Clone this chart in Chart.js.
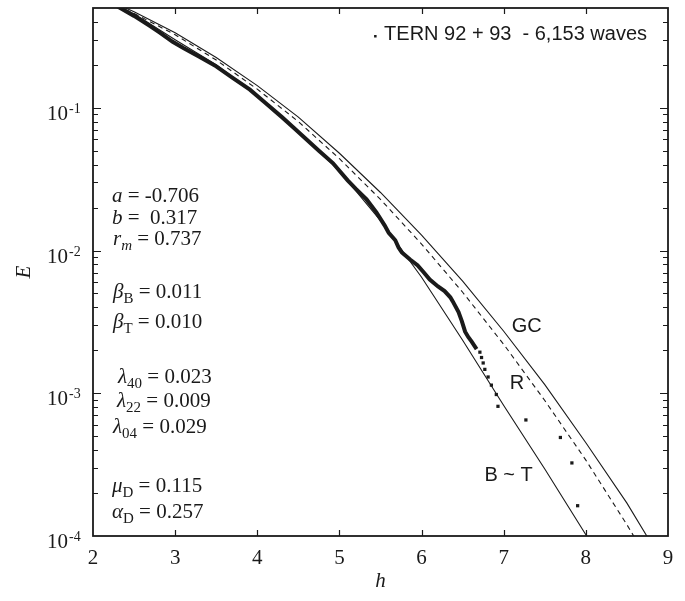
<!DOCTYPE html>
<html>
<head>
<meta charset="utf-8">
<script src="https://cdn.jsdelivr.net/npm/chart.js@4.4.1/dist/chart.umd.min.js"></script>
<style>
  html, body { margin: 0; padding: 0; background: #fff; }
  #wrap { width: 685px; height: 601px; }
</style>
</head>
<body>
<div id="wrap"><canvas id="chart"></canvas></div>
<script>
// empirical exceedance, dense part (h, E)
let dataH = [2.28, 2.4, 2.5, 2.6, 2.7, 2.8, 2.97, 3.1, 3.3, 3.5, 3.7, 3.91, 4.1, 4.3, 4.45, 4.56, 4.75, 4.92, 5.1, 5.2, 5.33, 5.45, 5.55, 5.6, 5.68, 5.72, 5.76, 5.86, 5.95, 6.02, 6.1, 6.2, 6.28, 6.35, 6.38, 6.45, 6.49, 6.53, 6.57, 6.61, 6.67];
let dataE = [0.52, 0.475, 0.44, 0.405, 0.372, 0.34, 0.29, 0.262, 0.227, 0.195, 0.162, 0.134, 0.108, 0.086, 0.072, 0.063, 0.05, 0.041, 0.031, 0.027, 0.0228, 0.0185, 0.015, 0.0133, 0.0118, 0.0105, 0.0097, 0.00865, 0.0079, 0.0071, 0.00626, 0.0056, 0.0052, 0.0047, 0.0044, 0.0037, 0.0032, 0.0027, 0.00247, 0.0023, 0.00204];
// largest waves, plotted as single squares
let tailH = [6.71, 6.73, 6.75, 6.77, 6.81, 6.85, 6.91, 6.93, 7.27, 7.69, 7.83, 7.9];
let tailE = [0.00194, 0.00178, 0.00163, 0.00147, 0.0013, 0.00114, 0.00098, 0.00081, 0.00065, 0.00049, 0.000325, 0.000163];
// model curves
let gcH = [2.3, 2.5, 3, 3.5, 4, 4.5, 5, 5.5, 6, 6.5, 7, 7.5, 8, 8.5, 8.8];
let gcE = [0.53, 0.47, 0.335, 0.225, 0.143, 0.086, 0.048, 0.0255, 0.0128, 0.0061, 0.00272, 0.00115, 0.00045, 0.00017, 0.000088];
let rH = [2.3, 2.5, 3, 3.5, 4, 4.5, 5, 5.5, 6, 6.5, 7, 7.5, 8, 8.5, 8.7];
let rE = [0.516, 0.458, 0.325, 0.216, 0.135, 0.08, 0.044, 0.0228, 0.0111, 0.0051, 0.0022, 0.00089, 0.00034, 0.00012, 0.000077];
let btH = [2.3, 2.5, 3, 3.5, 4, 4.5, 5, 5.5, 6, 6.5, 7, 7.5, 8, 8.2];
let btE = [0.51, 0.455, 0.3, 0.2, 0.122, 0.068, 0.036, 0.0162, 0.0065, 0.00235, 0.00082, 0.000295, 0.000102, 0.00006];

let yTickValues = [1e-4, 1e-3, 1e-2, 1e-1];
let yTickExps = ["-4", "-3", "-2", "-1"];

// curve labels, placed in data coordinates
let curveLabels = ["GC", "R", "B ~ T"];
let curveLabelH = [7.28, 7.16, 7.06];
let curveLabelE = [0.00294, 0.00117, 0.000267];

// parameter text: symbol, subscript, subscript italic, rest
let paramRows = [
  ["a", "", false, " = -0.706"],
  ["b", "", false, " =  0.317"],
  ["r", "m", true, " = 0.737"],
  ["β", "B", false, " = 0.011"],
  ["β", "T", false, " = 0.010"],
  ["λ", "40", false, " = 0.023"],
  ["λ", "22", false, " = 0.009"],
  ["λ", "04", false, " = 0.029"],
  ["μ", "D", false, " = 0.115"],
  ["α", "D", false, " = 0.257"],
];
let paramBaselines = [202, 224, 245, 298, 328, 383, 407, 433, 492, 518];
let paramLeft = [112, 112, 113, 113, 113, 118, 117, 113, 112, 112];

const SERIF = "'Liberation Serif', 'Times New Roman', serif";
const SANS = "'Liberation Sans', Arial, sans-serif";
const INK = "#1a1a1a";

function pts(hs, es) {
  return hs.map((h, i) => ({ x: h, y: es[i] }));
}

const framePlugin = {
  id: "frame",
  afterDatasetsDraw(chart) {
    const ctx = chart.ctx;
    const a = chart.chartArea;
    const xs = chart.scales.x;
    const ys = chart.scales.y;
    ctx.save();
    ctx.strokeStyle = INK;
    ctx.fillStyle = INK;
    ctx.lineWidth = 1.2;
    ctx.beginPath();
    // x ticks, inward on top and bottom
    for (let v = 3; v <= 8; v++) {
      let px = Math.round(xs.getPixelForValue(v)) + 0.5;
      ctx.moveTo(px, a.bottom);
      ctx.lineTo(px, a.bottom - 6);
      ctx.moveTo(px, a.top);
      ctx.lineTo(px, a.top + 6);
    }
    // y ticks, log minor ticks
    for (let d = -4; d <= -1; d++) {
      for (let m = 1; m <= 9; m++) {
        let v = m * Math.pow(10, d);
        if (v <= 1e-4 || v >= 0.5) continue;
        let py = Math.round(ys.getPixelForValue(v)) + 0.5;
        let len = m === 1 ? 8 : 5;
        ctx.moveTo(a.left, py);
        ctx.lineTo(a.left + len, py);
        ctx.moveTo(a.right, py);
        ctx.lineTo(a.right - len, py);
      }
    }
    ctx.stroke();
    // frame
    ctx.lineWidth = 1.8;
    ctx.strokeRect(a.left, a.top, a.right - a.left, a.bottom - a.top);

    // y tick labels with superscripts
    yTickValues.forEach((v, i) => {
      let py = ys.getPixelForValue(v);
      ctx.font = "21px " + SERIF;
      ctx.textAlign = "right";
      ctx.textBaseline = "alphabetic";
      ctx.fillText("10", 68, py + 12);
      ctx.font = "14px " + SERIF;
      ctx.textAlign = "left";
      ctx.fillText(yTickExps[i], 69, py + 5);
    });

    // legend, top right inside the frame
    let legendText = chart.data.datasets[0].label;
    ctx.font = "20px " + SANS;
    ctx.textAlign = "right";
    ctx.textBaseline = "middle";
    let tx = a.right - 21;
    let ty = a.top + 26;
    ctx.fillText(legendText, tx, ty);
    let tw = ctx.measureText(legendText).width;
    ctx.fillRect(tx - tw - 10, ty + 1, 2.5, 2.5);

    // curve labels
    ctx.textAlign = "center";
    curveLabels.forEach((t, i) => {
      ctx.fillText(t, xs.getPixelForValue(curveLabelH[i]), ys.getPixelForValue(curveLabelE[i]));
    });

    // parameter block
    ctx.textAlign = "left";
    ctx.textBaseline = "alphabetic";
    paramRows.forEach((row, i) => {
      let x = paramLeft[i];
      let y = paramBaselines[i];
      ctx.font = "italic 21px " + SERIF;
      ctx.fillText(row[0], x, y);
      x += ctx.measureText(row[0]).width;
      if (row[1]) {
        ctx.font = (row[2] ? "italic " : "") + "15px " + SERIF;
        ctx.fillText(row[1], x, y + 5);
        x += ctx.measureText(row[1]).width;
      }
      ctx.font = "21px " + SERIF;
      ctx.fillText(row[3], x, y);
    });
    ctx.restore();
  },
};

const ctx = document.getElementById("chart");
let myChart = new Chart(ctx, {
  type: "scatter",
  data: {
    datasets: [
      {
        label: "TERN 92 + 93  - 6,153 waves",
        data: pts(dataH, dataE),
        showLine: true,
        borderColor: INK,
        backgroundColor: INK,
        borderWidth: 4,
        pointRadius: 0,
      },
      {
        label: "tail",
        data: pts(tailH, tailE),
        showLine: false,
        borderColor: INK,
        backgroundColor: INK,
        pointStyle: "rect",
        pointRadius: 2.3,
        borderWidth: 0,
      },
      {
        label: "GC",
        data: pts(gcH, gcE),
        showLine: true,
        borderColor: INK,
        borderWidth: 1.1,
        pointRadius: 0,
      },
      {
        label: "R",
        data: pts(rH, rE),
        showLine: true,
        borderColor: INK,
        borderWidth: 1.1,
        borderDash: [5, 4],
        pointRadius: 0,
      },
      {
        label: "B ~ T",
        data: pts(btH, btE),
        showLine: true,
        borderColor: INK,
        borderWidth: 1.1,
        pointRadius: 0,
      },
    ],
  },
  options: {
    responsive: true,
    maintainAspectRatio: false,
    animation: false,
    devicePixelRatio: 1,
    layout: { padding: { top: 8, right: 17, left: 0, bottom: 0 } },
    scales: {
      x: {
        type: "linear",
        min: 2,
        max: 9,
        grid: { display: false, drawTicks: false },
        border: { display: false },
        ticks: {
          stepSize: 1,
          autoSkip: false,
          maxRotation: 0,
          padding: 10,
          color: INK,
          font: { family: SERIF, size: 21 },
        },
        title: {
          display: true,
          text: "h",
          color: INK,
          font: { family: SERIF, size: 21, style: "italic", lineHeight: 1.2 },
          padding: { top: 0, bottom: 7 },
        },
        afterFit: (scale) => {
          scale.height = 65;
        },
      },
      y: {
        type: "logarithmic",
        min: 1e-4,
        max: 0.5,
        grid: { display: false, drawTicks: false },
        border: { display: false },
        ticks: { display: false },
        title: {
          display: true,
          text: "E",
          color: INK,
          font: { family: SERIF, size: 21, style: "italic", lineHeight: 1.2 },
          padding: { top: 12, bottom: 0 },
        },
        afterFit: (scale) => {
          scale.width = 93;
        },
      },
    },
    plugins: {
      legend: { display: false },
      tooltip: { enabled: false },
    },
  },
  plugins: [framePlugin],
});
</script>
</body>
</html>
